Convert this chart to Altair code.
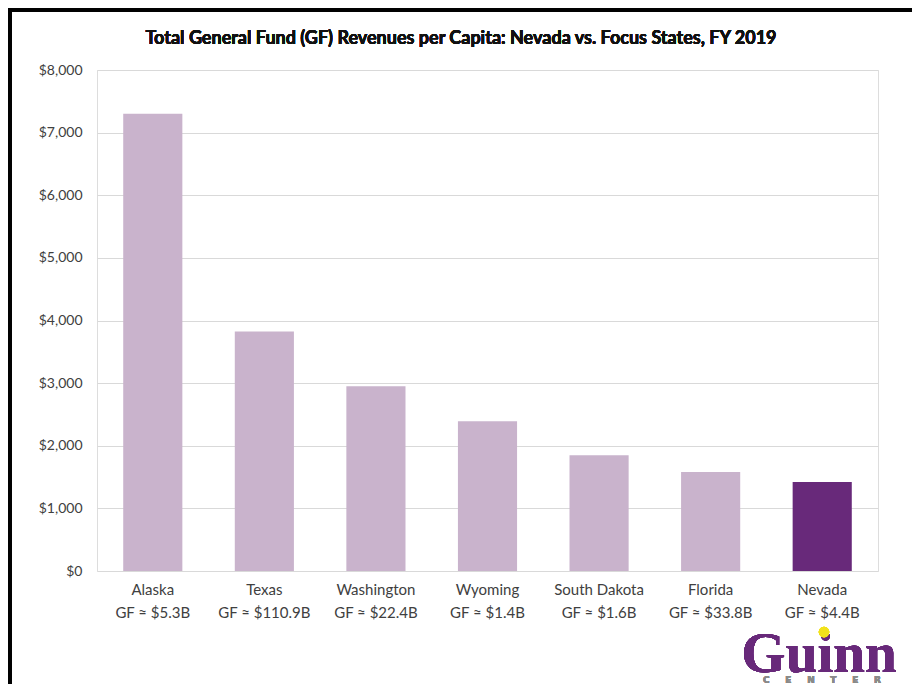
import altair as alt
import pandas as pd

states = ["Alaska", "Texas", "Washington", "Wyoming", "South Dakota", "Florida", "Nevada"]
gf_totals = ["GF ≈ $5.3B", "GF ≈ $110.9B", "GF ≈ $22.4B", "GF ≈ $1.4B", "GF ≈ $1.6B", "GF ≈ $33.8B", "GF ≈ $4.4B"]
per_capita = [7300, 3825, 2950, 2390, 1850, 1580, 1420]
highlight = ["Focus", "Focus", "Focus", "Focus", "Focus", "Focus", "Nevada"]
y_ticks = [0, 1000, 2000, 3000, 4000, 5000, 6000, 7000, 8000]
title_text = "Total General Fund (GF) Revenues per Capita: Nevada vs. Focus States, FY 2019"
logo_word = "Guinn"
logo_sub_word = "CENTER"

df = pd.DataFrame({
    "label": [f"{s}|{g}" for s, g in zip(states, gf_totals)],
    "value": per_capita,
    "group": highlight,
})

FONT = "Lato"
W, H = 781, 501
NB = "\u00a0" * 5

bars = alt.Chart(df).mark_bar().encode(
    x=alt.X("label:N", sort=None, title=None,
            scale=alt.Scale(paddingInner=0.47, paddingOuter=0.235),
            axis=alt.Axis(labelAngle=0, ticks=False, domain=False, labelPadding=11,
                          labelExpr="split(datum.label, '|')", labelLineHeight=23,
                          labelFontSize=15, labelColor="#404040", labelFont=FONT)),
    y=alt.Y("value:Q", title=None,
            scale=alt.Scale(domain=[0, 8000], nice=False),
            axis=alt.Axis(values=y_ticks, format="$,.0f", ticks=False, domain=False,
                          gridColor="#d9d9d9", gridWidth=1, labelPadding=15,
                          labelFontSize=14, labelColor="#404040", labelFont=FONT)),
    color=alt.Color("group:N", legend=None,
                    scale=alt.Scale(domain=["Focus", "Nevada"], range=["#C9B3CC", "#68297A"])),
)

title = alt.Chart(df).mark_text(font=FONT, fontWeight="bold", fontSize=18, color="#111111",
                                align="center", baseline="alphabetic").encode(
    x=alt.value(364), y=alt.value(-26), text=alt.value(title_text))

# frame lines (left and top border of the figure box)
left_border = alt.Chart(df).mark_rule(color="black", strokeWidth=3).encode(
    x=alt.value(-87), y=alt.value(-62), y2=alt.value(H + 200))
top_border = alt.Chart(df).mark_rule(color="black", strokeWidth=3).encode(
    x=alt.value(-88), x2=alt.value(W + 34), y=alt.value(-60), y2=alt.value(-60))

logo = alt.Chart(df).mark_text(font="Liberation Serif", fontWeight="bold", fontSize=57,
                               color="#68297A", align="center", baseline="alphabetic").encode(
    x=alt.value(722), y=alt.value(602), text=alt.value(logo_word))
logo_dot = alt.Chart(df).mark_point(filled=True, color="#F2E21B", size=110, opacity=1).encode(
    x=alt.value(727), y=alt.value(562))
logo_sub = alt.Chart(df).mark_text(font="DejaVu Sans", fontWeight="bold", fontSize=9,
                                   color="#8a8a8a", align="center", baseline="alphabetic").encode(
    x=alt.value(725), y=alt.value(613), text=alt.value(NB.join(logo_sub_word)))

chart = alt.layer(bars, title, left_border, top_border, logo, logo_dot, logo_sub).properties(
    width=W, height=H,
    autosize=alt.AutoSizeParams(type="none"),
    padding={"left": 89, "top": 62, "right": 34, "bottom": 113},
).configure_view(stroke=None).configure(background="white")

chart.save("out.html", embed_options={"renderer": "svg", "actions": False})
